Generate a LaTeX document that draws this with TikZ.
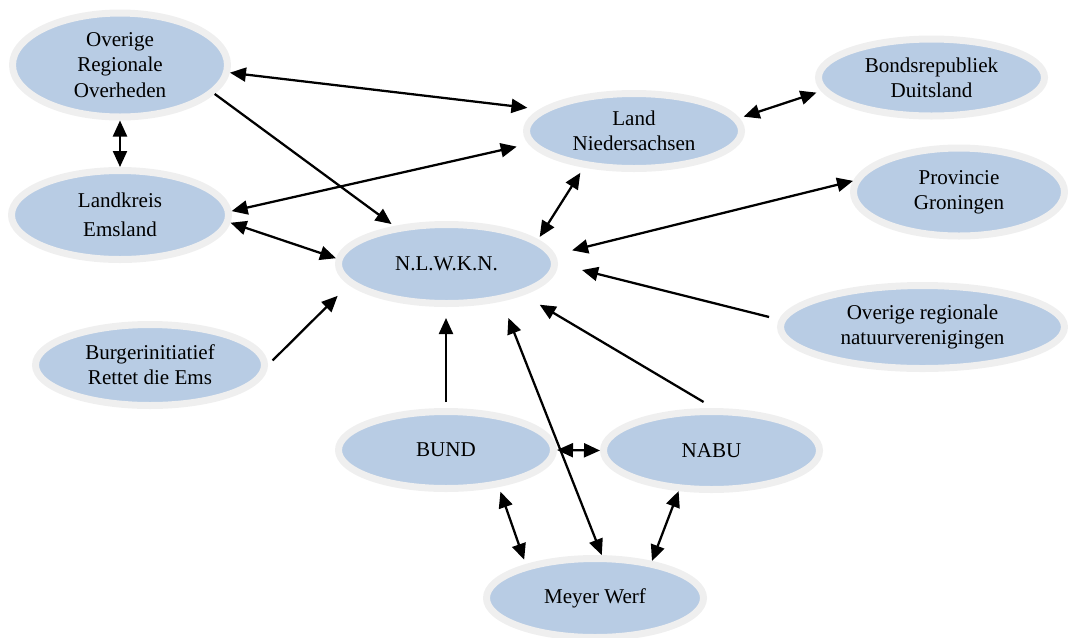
\documentclass[tikz,border=0pt]{standalone}
\usepackage{fontspec}
\setmainfont{Liberation Serif}
\usetikzlibrary{shapes.geometric,arrows.meta}

\definecolor{orgblue}{RGB}{184,204,228}
\definecolor{ringgrey}{RGB}{239,239,239}

\tikzset{every picture/.style={line width=0.75pt}}
\tikzset{
  org/.style 2 args={ellipse, draw=ringgrey, fill=orgblue, line width=5.25pt, outer sep=2.625pt, inner sep=0pt,
    align=center, font=\fontsize{15.8}{19}\selectfont, minimum width=#1, minimum height=#2},
  twoway/.style={line width=1.7pt, {Triangle[length=12pt,width=10.5pt]}-{Triangle[length=12pt,width=10.5pt]}},
  oneway/.style={line width=1.7pt, -{Triangle[length=12pt,width=10.5pt]}},
}

\begin{document}
\begin{tikzpicture}[x=0.75pt,y=0.75pt,yscale=-1,xscale=1]
    \useasboundingbox (0,0) rectangle (1068,637);

    % Ellipse nodes
    \node [org={161.25pt}{78pt}]   (oro)   at (120,65)     {Overige\\Regionale\\Overheden};
    \node [org={162.75pt}{66.75pt}] (lkr)  at (120,215)    {Landkreis\\[2.75pt]Emsland};
    \node [org={171.75pt}{60.75pt}] (bur)  at (150,365)    {Burgerinitiatief\\Rettet die Ems};
    \node [org={162pt}{59.25pt}]   (nlw)   at (446.5,264)  {N.L.W.K.N.};
    \node [org={161.25pt}{56.25pt}] (land) at (634,131)    {Land\\Niedersachsen};
    \node [org={169.5pt}{57.75pt}] (bonds) at (931.5,77.5) {Bondsrepubliek\\Duitsland};
    \node [org={158.25pt}{66pt}]   (prov)  at (959,192)    {Provincie\\Groningen};
    \node [org={213pt}{62.25pt}]   (ornv)  at (922.5,327)  {Overige regionale\\natuurverenigingen};
    \node [org={161.25pt}{57.75pt}] (bund) at (446,450)    {BUND};
    \node [org={162pt}{58.5pt}]    (nabu)  at (711.5,450.5) {NABU};
    \node [org={162.75pt}{59.25pt}] (meyer) at (595,598)   {Meyer Werf};

    % Arrows round the Land and the Overheden
    \draw [twoway, shorten >=9.4pt] (oro.-4.7) -- (land.167.1);
    \draw [oneway, shorten >=2.5pt] (oro.-17.6) -- (nlw.144.2);
    \draw [twoway] (oro.-90) -- (lkr.90);
    \draw [twoway, shorten <=9.2pt] (land.187.2) -- (lkr.2.1);
    \draw [twoway] (lkr.-4.6) -- (nlw.177.9);
    \draw [oneway, shorten <=4.9pt, shorten >=11.8pt] (bur.0.2) -- (nlw.192.2);
    \draw [twoway, shorten <=4.7pt, shorten >=2.25pt] (land.216.7) -- (nlw.15.9);
    \draw [twoway, shorten <=3.4pt, shorten >=3.75pt] (land.7.5) -- (bonds.187.3);
    \draw [twoway, shorten >=13pt] (prov.174.7) -- (nlw.5.8);
    \draw [oneway, shorten <=7.7pt, shorten >=18.6pt] (ornv.177) -- (nlw.-0.6);

    % Arrows round BUND, NABU and Meyer Werf
    \draw [oneway, shorten <=8.85pt, shorten >=14.1pt] (nabu.87.7) -- (nlw.-22.4);
    \draw [oneway, shorten <=4.5pt, shorten >=8.25pt] (bund.90) -- (bund.90 |- nlw.-90);
    \draw [twoway, shorten <=13.35pt] (nlw.-34.2) -- (meyer.81.7);
    \draw [twoway] (bund.east) -- (nabu.west);
    \draw [twoway, shorten <=3.75pt, shorten >=3.6pt] (bund.-35.9) -- (meyer.154.6);
    \draw [twoway] (nabu.231.1) -- (meyer.33.7);

\end{tikzpicture}
\end{document}
